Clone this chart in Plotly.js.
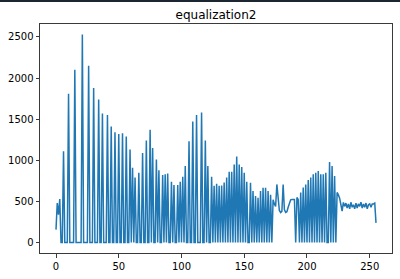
<!DOCTYPE html>
<html>
<head>
<meta charset="utf-8">
<script src="https://cdn.plot.ly/plotly-3.0.1.min.js"></script>
<style>
html,body{margin:0;padding:0;background:#fff;}
#topbar{position:absolute;left:0;top:0;width:400px;height:2px;background:#1b2631;z-index:10;}
#chart{width:400px;height:279px;}
</style>
</head>
<body>
<div id="topbar"></div>
<div id="chart"></div>
<script>
// Histogram counts for intensity levels 0..255 (index = level)
const counts = [
158,480,340,530,0,0,1110,0,0,0,
1810,0,0,0,0,2100,0,0,0,0,
0,2530,0,0,0,0,2150,0,0,0,
1880,0,0,0,1740,0,0,1570,0,0,
0,1550,0,0,1410,0,0,1340,0,0,
1320,0,0,1330,0,0,1290,0,0,1130,
0,910,0,790,0,0,850,0,0,1090,
0,0,1240,0,0,1370,0,1150,0,0,
1010,0,880,0,0,820,0,830,0,840,
0,0,740,0,700,0,0,700,0,740,
0,800,0,930,0,0,1230,0,0,1470,
0,0,1550,0,0,0,1580,0,0,1240,
0,930,0,0,800,0,690,0,715,0,
690,0,695,0,730,0,790,0,860,0,
860,0,950,0,1045,0,950,0,920,0,
850,0,740,0,0,728,0,626,0,565,
0,545,0,626,0,667,0,667,0,626,
0,580,0,520,470,440,707,490,390,366,
380,707,400,366,375,430,488,520,524,524,
524,0,548,524,0,610,0,670,0,707,
0,760,0,790,0,830,0,850,0,870,
0,830,0,830,0,850,0,0,980,0,
930,0,810,0,610,580,540,463,382,488,
440,480,420,470,410,490,430,460,410,480,
420,470,440,490,420,470,430,480,410,460,
470,430,470,470,480,240
];
const levels = counts.map((_, i) => i);
const xTicks = [0, 50, 100, 150, 200, 250];
const yTicks = [0, 500, 1000, 1500, 2000, 2500];
const titleText = "equalization2";

const trace = {
  x: levels,
  y: counts,
  type: "scatter",
  mode: "lines",
  line: {color: "#1f77b4", width: 1.5},
  hoverinfo: "none"
};

const axisCommon = {
  showgrid: false,
  zeroline: false,
  showline: true,
  linecolor: "#3a3a3a",
  linewidth: 1,
  mirror: true,
  ticks: "outside",
  ticklen: 3.5,
  tickwidth: 1,
  tickcolor: "#3a3a3a",
  tickfont: {family: "DejaVu Sans", size: 10, color: "#000"}
};

const layout = {
  width: 400,
  height: 279,
  margin: {l: 40, r: 8, t: 24, b: 26, pad: 0},
  paper_bgcolor: "#fff",
  plot_bgcolor: "#fff",
  showlegend: false,
  title: {
    text: titleText,
    font: {family: "DejaVu Sans", size: 12, color: "#000"},
    x: 0.5,
    xref: "paper",
    y: 1,
    yref: "paper",
    yanchor: "bottom",
    pad: {b: 5}
  },
  xaxis: Object.assign({}, axisCommon, {
    range: [-12.75, 267.75],
    tickvals: xTicks,
    ticktext: xTicks.map(String)
  }),
  yaxis: Object.assign({}, axisCommon, {
    range: [-126.5, 2656.5],
    tickvals: yTicks,
    ticktext: yTicks.map(String)
  })
};

Plotly.newPlot("chart", [trace], layout, {staticPlot: true, displayModeBar: false});
</script>
</body>
</html>
